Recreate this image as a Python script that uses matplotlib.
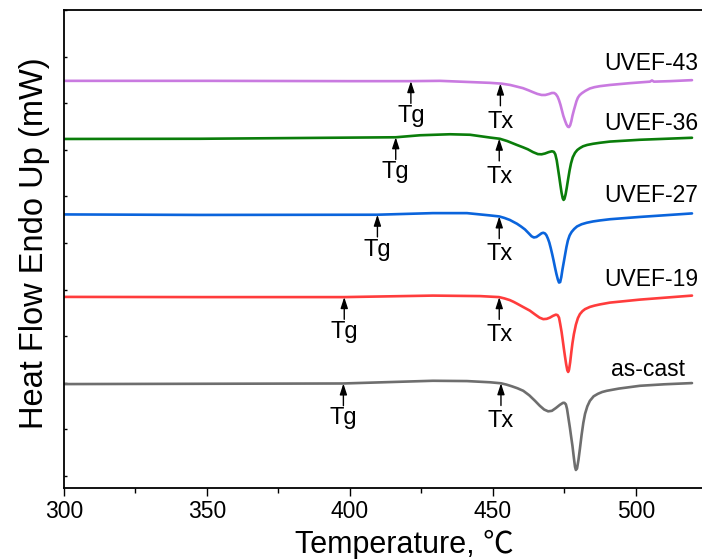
import numpy as np
import matplotlib
matplotlib.use("Agg")
import matplotlib.pyplot as plt
from matplotlib.ticker import MultipleLocator, FixedLocator

plt.rcParams['font.family'] = ['Liberation Sans', 'Noto Sans CJK SC', 'DejaVu Sans']

# ---------------- data (heat flow, arbitrary mW units) ----------------
t_43 = [300, 350, 400, 421, 431.5, 449.0, 453.1, 456, 458, 460.5, 462.5, 464.0, 465.5, 467.0, 468.3,
        469.6, 470.6, 471.4, 472.0, 472.6, 473.1, 473.6, 474.1, 474.6, 475.2, 475.7, 476.2, 476.6,
        477.0, 477.4, 477.8, 478.3, 478.7, 479.2, 479.7, 480.3, 481.1, 482.3, 483.9, 485.5, 487.4,
        490.9, 494, 497.9, 504.9, 505.6, 506.3, 511.9, 519.6]
hf_43 = [40.63, 40.63, 40.60, 40.60, 40.63, 40.43, 40.35, 40.22, 40.08, 39.90, 39.68, 39.50, 39.33, 39.22, 39.22,
         39.32, 39.42, 39.42, 39.30, 39.05, 38.70, 38.25, 37.70, 37.15, 36.65, 36.28, 36.05, 36.02,
         36.20, 36.60, 37.15, 37.70, 38.10, 38.60, 38.95, 39.20, 39.40, 39.63, 39.87, 40.00, 40.10,
         40.22, 40.30, 40.40, 40.55, 40.67, 40.55, 40.60, 40.70]

t_36 = [300, 347.6, 393, 416, 424.5, 435, 442, 449.0, 452.4, 455, 458.4, 460.5, 462.2, 464, 465.7, 467,
        468.2, 469.5, 470.6, 471.3, 471.8, 472.3, 472.7, 473.2, 473.6, 474.0, 474.4, 474.7, 475.0,
        475.4, 475.8, 476.3, 476.8, 477.3, 477.9, 478.7, 479.5, 480.4, 481.5, 482.9, 485, 487.4,
        490.9, 501.4, 519.6]
hf_36 = [34.83, 34.85, 34.95, 35.00, 35.20, 35.30, 35.25, 34.97, 34.85, 34.62, 34.23, 34.00, 33.80, 33.52, 33.32, 33.30,
         33.38, 33.52, 33.60, 33.55, 33.30, 32.70, 31.95, 31.00, 30.20, 29.45, 28.90, 28.75, 28.85,
         29.30, 29.95, 30.85, 31.70, 32.40, 33.00, 33.45, 33.73, 33.92, 34.10, 34.23, 34.35, 34.45,
         34.57, 34.75, 34.95]

t_27 = [300, 347.6, 409.4, 429.0, 440.9, 449.0, 452.2, 454, 455.9, 457.2, 458.4, 459.8, 461.2, 462.5,
        463.5, 464.3, 465.2, 466.2, 467.0, 467.6, 468.2, 468.7, 469.2, 469.7, 470.2, 470.7, 471.2,
        471.7, 472.2, 472.7, 473.1, 473.5, 473.9, 474.3, 474.8, 475.2, 475.7, 476.2, 476.8, 477.5,
        478.4, 479.4, 481, 482.8, 485, 487.4, 490.9, 501.4, 519.6]
hf_27 = [27.30, 27.25, 27.27, 27.43, 27.43, 27.20, 27.10, 26.95, 26.75, 26.55, 26.37, 26.10, 25.80, 25.42,
         25.12, 25.00, 25.05, 25.25, 25.42, 25.47, 25.40, 25.22, 24.90, 24.50, 23.95, 23.35, 22.70,
         22.00, 21.35, 20.80, 20.50, 20.55, 21.05, 21.80, 22.60, 23.25, 24.05, 24.70, 25.20, 25.55,
         25.85, 26.10, 26.32, 26.47, 26.60, 26.70, 26.82, 27.05, 27.40]

t_19 = [300, 347.6, 397.9, 429.0, 445.5, 452.1, 454, 455.9, 457.2, 458.4, 460.5, 462.9, 464.8, 466.3,
        467.6, 468.8, 469.9, 471.0, 472.0, 472.6, 473.1, 473.5, 474.0, 474.4, 474.8, 475.2, 475.6,
        476.0, 476.3, 476.6, 477.0, 477.4, 477.8, 478.3, 479.0, 479.7, 480.4, 481.3, 482.2, 483.9,
        485.5, 487.4, 490.9, 501.4, 519.6]
hf_19 = [19.07, 19.05, 19.05, 19.20, 19.15, 19.05, 18.92, 18.75, 18.58, 18.40, 18.07, 17.70, 17.30, 17.00,
         16.85, 16.88, 17.00, 17.18, 17.30, 17.25, 17.00, 16.40, 15.57, 14.75, 13.90, 13.10, 12.35,
         11.75, 11.58, 11.80, 12.55, 13.55, 14.45, 15.35, 16.30, 16.95, 17.35, 17.65, 17.85, 18.07,
         18.20, 18.32, 18.50, 18.80, 19.20]

t_cast = [300, 347.6, 397.6, 429.0, 440.9, 449.0, 452.8, 454.7, 456.6, 458.6, 460.6, 462.7, 464.7, 466.4,
          467.9, 469.3, 470.6, 472.0, 473.4, 474.5, 475.0, 475.5, 475.9, 476.3, 476.9, 477.3, 477.8,
          478.3, 478.7, 479.0, 479.4, 479.9, 480.4, 481.0, 481.6, 482.2, 483.0, 483.9, 485.2, 486.7,
          488.2, 489.8, 494, 501.4, 510, 519.6]
hf_cast = [10.37, 10.40, 10.43, 10.70, 10.67, 10.55, 10.45, 10.32, 10.15, 9.95, 9.70, 9.25, 8.70, 8.20,
           7.83, 7.65, 7.70, 7.98, 8.30, 8.50, 8.50, 8.35, 7.90, 7.15, 6.03, 5.20, 4.20,
           3.00, 2.10, 1.80, 1.95, 2.80, 3.90, 5.30, 6.50, 7.40, 8.15, 8.70, 9.15, 9.40,
           9.58, 9.70, 9.92, 10.20, 10.35, 10.47]

names = ['UVEF-43', 'UVEF-36', 'UVEF-27', 'UVEF-19', 'as-cast']
tg = [421.3, 416.0, 409.6, 398.0, 397.7]
tx = [452.6, 452.2, 452.2, 452.2, 452.8]
label_x = [521.7, 521.7, 521.7, 521.7, 517.1]
label_y = [41.7, 35.7, 28.53, 20.2, 11.2]

series = [(t_43, hf_43), (t_36, hf_36), (t_27, hf_27), (t_19, hf_19), (t_cast, hf_cast)]
colors = ['#c97ae0', '#0a7d0a', '#0a64dc', '#ff3c3c', '#6e6e6e']

# ---------------- figure ----------------
fig = plt.figure(figsize=(7.02, 5.59), dpi=100)
ax = fig.add_axes([64/702, 71/559, 638/702, 478/559])

for (t, hf), c in zip(series, colors):
    ax.plot(t, hf, color=c, lw=1.9, solid_joinstyle='round', solid_capstyle='round')

arrow_kw = dict(arrowstyle='-|>,head_length=0.55,head_width=0.18', color='black', lw=1.0,
                shrinkA=0, shrinkB=0, mutation_scale=12)
for i, (t, hf) in enumerate(series):
    for xv, lab, base in ((tg[i], 'Tg', -41), (tx[i], 'Tx', -44)):
        yv = np.interp(xv, t, hf)
        ax.annotate('', xy=(xv, yv), xycoords='data', xytext=(0, -16), textcoords='offset points',
                    arrowprops=arrow_kw)
        ax.annotate(lab, xy=(xv, yv), xycoords='data', xytext=(0, base * 0.72),
                    textcoords='offset points', ha='center', va='baseline', fontsize=17)
    ax.text(label_x[i], label_y[i], names[i], ha='right', va='baseline', fontsize=16.5)

ax.set_xlim(300, 523.1)
ax.set_ylim(0, 47.7)
ax.xaxis.set_major_locator(MultipleLocator(50))
ax.xaxis.set_minor_locator(MultipleLocator(25))
ax.yaxis.set_major_locator(FixedLocator([1.2 + 4.65 * k for k in range(11)]))
ax.tick_params(axis='x', which='major', direction='out', length=5.8, width=1.0, labelsize=16.5, pad=3)
ax.tick_params(axis='x', which='minor', direction='out', length=3.6, width=1.0)
ax.tick_params(axis='y', which='major', direction='in', length=2.5, width=1.0, labelleft=False)
for s in ('left', 'bottom', 'top'):
    ax.spines[s].set_linewidth(1.3)
ax.spines['right'].set_visible(False)

ax.set_xlabel('Temperature, ℃', fontsize=22)
ax.xaxis.set_label_coords(0.533, -0.088)
ax.set_ylabel('Heat Flow Endo Up (mW)', fontsize=23.5)
ax.yaxis.set_label_coords(-0.022, 0.5126)

fig.savefig('out.png', dpi=100)
